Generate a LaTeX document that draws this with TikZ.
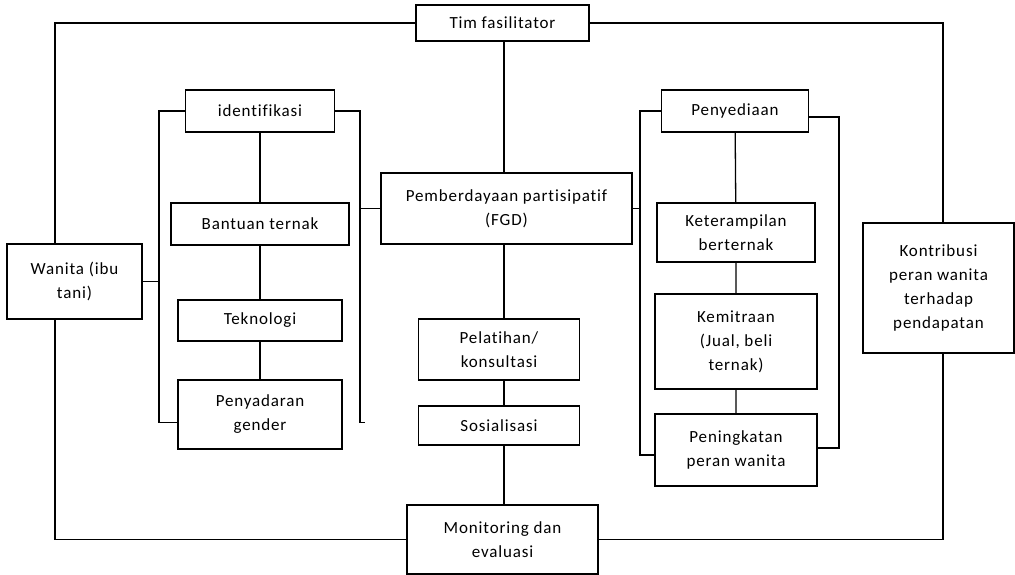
\documentclass[tikz,border=0pt]{standalone}
\usepackage{fontspec}
\setmainfont{Carlito}[Ligatures=NoCommon,LetterSpace=5]
\begin{document}
\begin{tikzpicture}[x=1pt,y=-1pt,
    box/.style={draw,line width=1.3pt,align=center,inner sep=0pt,font=\fontsize{17}{24}\selectfont},
    link/.style={line width=1.3pt}]
    \useasboundingbox (0,0) rectangle (1015,575);
    \node[box,minimum width=173,minimum height=36] (tim) at (502.5,23) {Tim fasilitator};
    \node[box,minimum width=135,minimum height=75] (wanita) at (74.5,281.5) {Wanita (ibu\\tani)};
    \node[box,minimum width=149,minimum height=42] (identifikasi) at (260,111) {identifikasi};
    \node[box,minimum width=178,minimum height=42] (bantuan) at (260,224) {Bantuan ternak};
    \node[box,minimum width=164,minimum height=41] (teknologi) at (260,320.5) {Teknologi};
    \node[box,minimum width=164,minimum height=69] (penyadaran) at (260,414.5) {Penyadaran\\gender};
    \node[box,minimum width=251,minimum height=71] (pemberdayaan) at (506.5,208.5) {Pemberdayaan partisipatif\\(FGD)};
    \node[box,minimum width=161,minimum height=61] (pelatihan) at (499,349.5) {Pelatihan/\\konsultasi};
    \node[box,minimum width=161,minimum height=39] (sosialisasi) at (499,425.5) {Sosialisasi};
    \node[box,minimum width=191,minimum height=69] (monitoring) at (502.5,539.5) {Monitoring dan\\evaluasi};
    \node[box,minimum width=147,minimum height=42] (penyediaan) at (735,111) {Penyediaan};
    \node[box,minimum width=158,minimum height=59] (keterampilan) at (736,232.5) {Keterampilan\\berternak};
    \node[box,minimum width=162,minimum height=95] (kemitraan) at (736,341.5) {Kemitraan\\(Jual, beli\\ternak)};
    \node[box,minimum width=162,minimum height=72] (peningkatan) at (736,450) {Peningkatan\\peran wanita};
    \node[box,minimum width=151,minimum height=130] (kontribusi) at (938.5,288) {Kontribusi\\peran wanita\\terhadap\\pendapatan};
    \coordinate (lx) at (55,0);
    \coordinate (rx) at (943,0);
    \coordinate (mx) at (504,0);
    \coordinate (lb) at (159,0);
    \coordinate (rb) at (360,0);
    \coordinate (lb2) at (640,0);
    \coordinate (rb2) at (839,0);
    \draw[link] (tim.west) -| (wanita.north -| lx);
    \draw[link] (wanita.south -| lx) |- (monitoring.west);
    \draw[link] (tim.east) -| (kontribusi.north -| rx);
    \draw[link] (monitoring.east) -| (kontribusi.south -| rx);
    \draw[link] (tim.south -| mx) -- (pemberdayaan.north -| mx);
    \draw[link] (pemberdayaan.south -| mx) -- (pelatihan.north -| mx);
    \draw[link] (pelatihan.south -| mx) -- (sosialisasi.north -| mx);
    \draw[link] (sosialisasi.south -| mx) -- (monitoring.north -| mx);
    \draw[link] (identifikasi) -- (bantuan) -- (teknologi) -- (penyadaran);
    \draw[link] (penyediaan) -- (keterampilan) -- (kemitraan) -- (peningkatan);
    \draw[link] (identifikasi.west) -| ([yshift=-8]penyadaran.west -| lb) -- ([yshift=-8]penyadaran.west);
    \draw[link] (wanita.east) -- (wanita.east -| lb);
    \draw[link] (identifikasi.east) -| ([yshift=-8]penyadaran.east -| rb) -- ([yshift=-8,xshift=22]penyadaran.east);
    \draw[link] (pemberdayaan.west -| rb) -- (pemberdayaan.west);
    \draw[link] (penyediaan.west) -| ([yshift=-5]peningkatan.west -| lb2) -- ([yshift=-5]peningkatan.west);
    \draw[link] (pemberdayaan.east) -- (pemberdayaan.east -| lb2);
    \draw[link] ([yshift=-6]penyediaan.east) -| ([yshift=2]peningkatan.east -| rb2) -- ([yshift=2]peningkatan.east);
\end{tikzpicture}
\end{document}
